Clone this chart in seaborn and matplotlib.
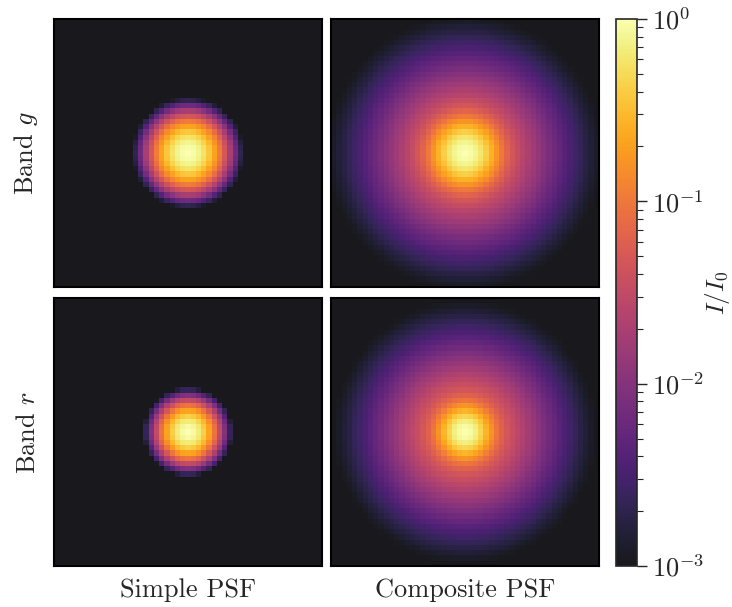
import numpy as np
import matplotlib
matplotlib.use('Agg')
import matplotlib.pyplot as plt
import seaborn as sns
from matplotlib.colors import LogNorm

# PSF parameters (in pixels of the 51x51 stamp)
bands = ['g', 'r']
psf_types = ['Simple PSF', 'Composite PSF']
core_sigma = [2.85, 2.3]      # gaussian core width per band
halo_amp = [0.15, 0.14]       # moffat halo amplitude (composite only)
halo_alpha = [13.0, 12.6]     # moffat halo scale (composite only)
halo_beta = [3.0, 3.0]        # moffat halo slope (composite only)
n_pix = 51

sns.set_style('white')
plt.rcParams['font.family'] = 'serif'
plt.rcParams['font.serif'] = ['cmr10']
plt.rcParams['mathtext.fontset'] = 'cm'
plt.rcParams['axes.formatter.use_mathtext'] = True

c = np.arange(n_pix) - (n_pix - 1) / 2
xx, yy = np.meshgrid(c, c)
r2 = xx**2 + yy**2


def make_psf(i, composite):
    img = np.exp(-r2 / (2 * core_sigma[i]**2))
    if composite:
        img = img + halo_amp[i] * (1 + r2 / halo_alpha[i]**2) ** (-halo_beta[i])
    return img / img.max()


fig = plt.figure(figsize=(7.32, 6.07), dpi=100)
W, H = 732, 607
lefts = [54, 331]
tops = [19, 298]
size = 268

norm = LogNorm(vmin=1e-3, vmax=1)
mesh = None
for i, band in enumerate(bands):
    for j, kind in enumerate(psf_types):
        ax = fig.add_axes([lefts[j] / W, 1 - (tops[i] + size) / H, size / W, size / H])
        sns.heatmap(make_psf(i, j == 1), ax=ax, cmap='inferno', norm=norm, cbar=False,
                    xticklabels=False, yticklabels=False, alpha=0.9)
        mesh = ax.collections[0]
        for sp in ax.spines.values():
            sp.set_visible(True)
            sp.set_color('black')
            sp.set_linewidth(1.5)
        if j == 0:
            ax.set_ylabel(f'Band ${band}$', fontsize=19, labelpad=10)
        if i == 1:
            ax.set_xlabel(kind, fontsize=19, labelpad=9)

cax = fig.add_axes([616 / W, 1 - 566 / H, 21 / W, 547 / H])
cb = fig.colorbar(mesh, cax=cax)
cb.set_label('$I/I_0$', fontsize=18, labelpad=-1)
cb.ax.tick_params(labelsize=19, which='major', length=7, width=1, pad=4)
cb.ax.tick_params(which='minor', length=4.3, width=0.8)
cb.outline.set_linewidth(1.2)

fig.savefig('out.png', dpi=100)
